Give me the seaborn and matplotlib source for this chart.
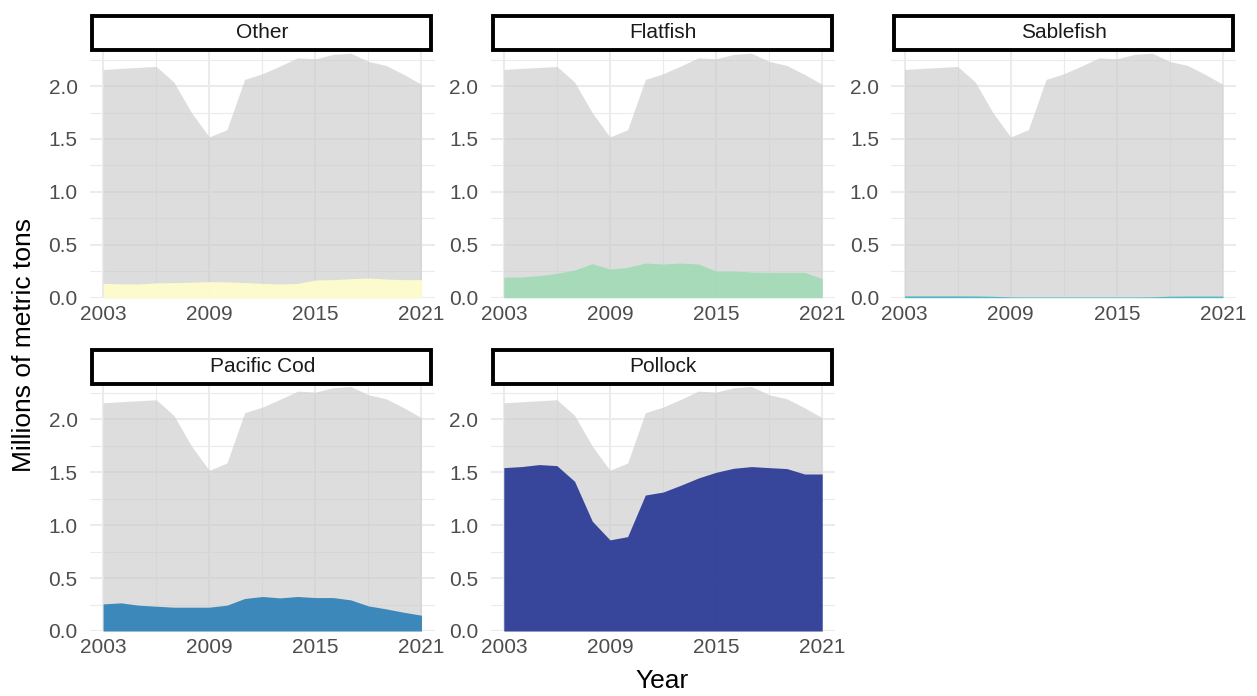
import pandas as pd
import matplotlib
matplotlib.use("Agg")
import matplotlib.pyplot as plt
import seaborn as sns
from matplotlib.patches import Rectangle
from matplotlib.ticker import FixedLocator

# Alaska groundfish catch, millions of metric tons
years = list(range(2003, 2022))
total = [2.157, 2.167, 2.176, 2.186, 2.038, 1.748, 1.519, 1.588, 2.063, 2.116,
         2.189, 2.267, 2.258, 2.299, 2.311, 2.233, 2.195, 2.110, 2.016]
other = [0.135, 0.131, 0.129, 0.140, 0.142, 0.146, 0.151, 0.149, 0.143, 0.135,
         0.129, 0.135, 0.167, 0.170, 0.179, 0.186, 0.176, 0.170, 0.170]
flatfish = [0.195, 0.195, 0.208, 0.230, 0.261, 0.321, 0.270, 0.286, 0.327, 0.318,
            0.327, 0.318, 0.252, 0.252, 0.242, 0.239, 0.239, 0.239, 0.179]
sablefish = [0.017, 0.017, 0.017, 0.017, 0.016, 0.013, 0.007, 0.006, 0.006, 0.006,
             0.006, 0.006, 0.006, 0.006, 0.008, 0.014, 0.015, 0.015, 0.015]
pacific_cod = [0.256, 0.266, 0.244, 0.234, 0.225, 0.225, 0.225, 0.244, 0.307, 0.326,
               0.313, 0.326, 0.316, 0.316, 0.294, 0.237, 0.209, 0.177, 0.149]
pollock = [1.544, 1.554, 1.573, 1.563, 1.415, 1.038, 0.861, 0.892, 1.285, 1.313,
           1.377, 1.446, 1.500, 1.538, 1.554, 1.544, 1.535, 1.484, 1.484]

species_order = ["Other", "Flatfish", "Sablefish", "Pacific Cod", "Pollock"]
species_colors = ["#ffffcc", "#a1dab4", "#41b6c4", "#2c7fb8", "#253494"]
year_ticks = [2003, 2009, 2015, 2021]

frames = []
for name, vals in zip(species_order, [other, flatfish, sablefish, pacific_cod, pollock]):
    frames.append(pd.DataFrame({"Year": years, "Species": name,
                                "Catch": vals, "Total": total}))
df = pd.concat(frames, ignore_index=True)
palette = dict(zip(species_order, species_colors))

sns.set_theme(style="white")
plt.rcParams["font.family"] = ["Liberation Sans", "DejaVu Sans"]


def draw_area(data, color=None, label=None, **kws):
    ax = plt.gca()
    ax.fill_between(data["Year"], 0, data["Total"], color="#cccccc",
                    alpha=0.65, lw=0)
    sp = data["Species"].iloc[0]
    ax.fill_between(data["Year"], 0, data["Catch"], color=palette[sp],
                    alpha=0.9, lw=0)


g = sns.FacetGrid(df, col="Species", col_wrap=3, col_order=species_order,
                  sharex=False, sharey=False, height=3, aspect=1.4)
g.map_dataframe(draw_area)
g.set_titles("")
g.set_axis_labels("", "")

for ax, name in zip(g.axes.flat, species_order):
    ax.set_xlim(2002.26, 2021.74)
    ax.set_ylim(0, 2.32)
    ax.set_xticks(year_ticks)
    ax.set_xticklabels([str(y) for y in year_ticks])
    ax.set_yticks([0, 0.5, 1.0, 1.5, 2.0])
    ax.set_yticklabels(["0.0", "0.5", "1.0", "1.5", "2.0"])
    ax.xaxis.set_minor_locator(FixedLocator([2006, 2012, 2018]))
    ax.yaxis.set_minor_locator(FixedLocator([0.25, 0.75, 1.25, 1.75, 2.25]))
    ax.tick_params(which="both", length=0)
    ax.tick_params(axis="y", labelsize=15, labelcolor="#4d4d4d", pad=9,
                   labelleft=True)
    ax.tick_params(axis="x", labelsize=15, labelcolor="#4d4d4d", pad=5,
                   labelbottom=True)
    ax.set_axisbelow(True)
    ax.grid(which="major", color="#ebebeb", lw=1.5)
    ax.grid(which="minor", color="#ebebeb", lw=0.8)
    for s in ax.spines.values():
        s.set_visible(False)
    # strip box on top of every panel
    ax.add_patch(Rectangle((0.006, 1.008), 0.984, 0.138, transform=ax.transAxes,
                           facecolor="white", edgecolor="black", lw=2.8,
                           clip_on=False))
    ax.text(0.5, 1.079, name, transform=ax.transAxes, ha="center", va="center",
            fontsize=15, color="#1a1a1a")

fig = g.figure
fig.set_size_inches(12.57, 6.96)
fig.subplots_adjust(left=0.0716, right=0.9833, top=0.925, bottom=0.0934,
                    wspace=0.163, hspace=0.358)
fig.text(662 / 1257, 1 - 681 / 696, "Year", ha="center", va="center",
         fontsize=19, color="black")
fig.text(24 / 1257, 1 - 345 / 696, "Millions of metric tons", ha="center",
         va="center", rotation=90, fontsize=19, color="black")

plt.savefig("out.png", dpi=100)
